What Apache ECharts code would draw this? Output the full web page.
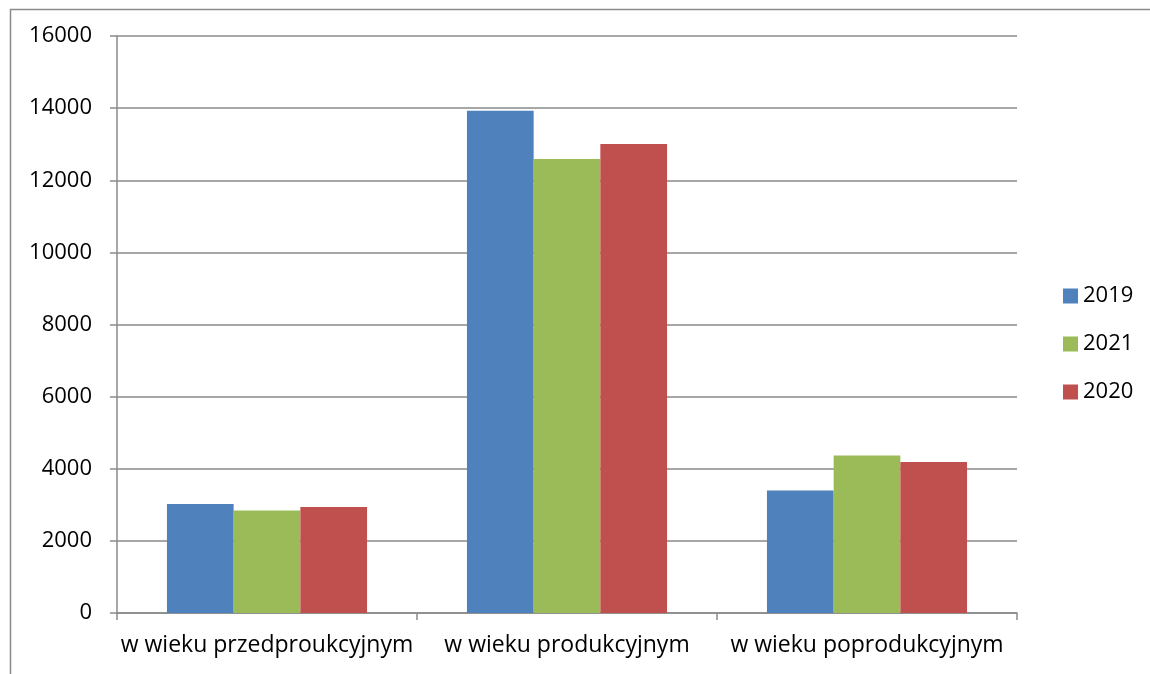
<!DOCTYPE html>
<html>
<head>
<meta charset="utf-8">
<script src="https://cdn.jsdelivr.net/npm/echarts@6/dist/echarts.min.js"></script>
<style>html,body{margin:0;padding:0;background:#fff}#c{width:1150px;height:674px}</style>
</head>
<body>
<div id="c"></div>
<script>
const categories = ['w wieku przedproukcyjnym', 'w wieku produkcyjnym', 'w wieku poprodukcyjnym'];
const seriesNames = ['2019', '2021', '2020'];
const values2019 = [3020, 13930, 3400];
const values2021 = [2840, 12590, 4370];
const values2020 = [2940, 13005, 4185];
const colors = ['#4F81BD', '#9BBB59', '#C0504D'];
const yTicks = { min: 0, max: 16000, interval: 2000 };

const font = '"Open Sans", "Noto Sans", sans-serif';
const data = [values2019, values2021, values2020];
const chart = echarts.init(document.getElementById('c'));
chart.setOption({
  animation: false,
  backgroundColor: '#fff',
  graphic: [{
    type: 'rect', left: 8, top: 7, silent: true,
    shape: { width: 1160, height: 700 },
    style: { fill: 'none', stroke: '#8a8a8a', lineWidth: 1.5 }
  }],
  grid: { left: 117, right: 133, top: 36, bottom: 61, containLabel: false },
  legend: {
    orient: 'vertical', left: 1058, top: 279,
    itemWidth: 15, itemHeight: 15, itemGap: 24,
    icon: 'rect',
    textStyle: { fontFamily: font, fontSize: 22, lineHeight: 24, color: '#000', padding: [0, 0, 0, 0] },
    data: seriesNames
  },
  xAxis: {
    type: 'category', data: categories,
    axisLine: { lineStyle: { color: '#8a8a8a', width: 1.5 } },
    axisTick: { show: true, length: 7, alignWithLabel: false, lineStyle: { color: '#8a8a8a', width: 1.5 } },
    axisLabel: { fontFamily: font, fontSize: 23, color: '#000', margin: 21, interval: 0, hideOverlap: false }
  },
  yAxis: {
    type: 'value', min: yTicks.min, max: yTicks.max, interval: yTicks.interval,
    axisLine: { show: true, lineStyle: { color: '#8a8a8a', width: 1.5 } },
    axisTick: { show: true, length: 7, lineStyle: { color: '#8a8a8a', width: 1.5 } },
    axisLabel: { fontFamily: font, fontSize: 22, color: '#000', margin: 25, formatter: v => String(v) },
    splitLine: { lineStyle: { color: '#8a8a8a', width: 1.5 } }
  },
  series: seriesNames.map((n, i) => ({
    name: n, type: 'bar', data: data[i],
    barGap: '0%', barCategoryGap: '33.3%',
    itemStyle: { color: colors[i] }
  }))
});
</script>
</body>
</html>
